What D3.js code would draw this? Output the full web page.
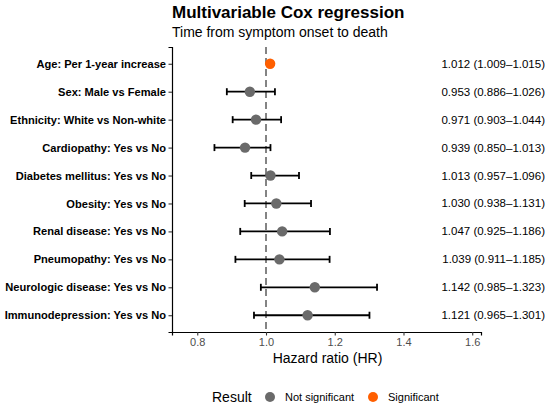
<!DOCTYPE html>
<html><head><meta charset="utf-8">
<script src="https://cdn.jsdelivr.net/npm/d3@7"></script>
<style>body{margin:0;background:#fff;} svg{display:block;font-family:"Liberation Sans",Arial,sans-serif;}</style>
</head><body>
<svg id="chart" width="550" height="406"></svg>
<script>
const labels = ["Age: Per 1-year increase","Sex: Male vs Female","Ethnicity: White vs Non-white","Cardiopathy: Yes vs No","Diabetes mellitus: Yes vs No","Obesity: Yes vs No","Renal disease: Yes vs No","Pneumopathy: Yes vs No","Neurologic disease: Yes vs No","Immunodepression: Yes vs No"];
const hr =    [1.012, 0.953, 0.971, 0.939, 1.013, 1.030, 1.047, 1.039, 1.142, 1.121];
const lower = [1.009, 0.886, 0.903, 0.850, 0.957, 0.938, 0.925, 0.911, 0.985, 0.965];
const upper = [1.015, 1.026, 1.044, 1.013, 1.096, 1.131, 1.186, 1.185, 1.323, 1.301];
const result = ["Significant","Not significant","Not significant","Not significant","Not significant","Not significant","Not significant","Not significant","Not significant","Not significant"];
const xTicks = [0.8, 1.0, 1.2, 1.4, 1.6];
const resultLevels = ["Not significant","Significant"];

(function(){
const data = labels.map((l,i)=>({label:l, hr:hr[i], lo:lower[i], hi:upper[i], res:result[i]}));
const fmt = d3.format(".3f");

const svg = d3.select("#chart");
const pL = 172, pR = 481, pT = 47, pB = 332;
const x = d3.scaleLinear().domain([0.7265, 1.6255]).range([pL, pR]);
const y = d3.scalePoint().domain(labels).range([pT, pB]).padding(0.6);
const color = d3.scaleOrdinal().domain(resultLevels).range(["#6a6a6a","#FF5F00"]);

svg.append("text").attr("x", pL).attr("y", 18).attr("font-size", 17).attr("font-weight","bold").attr("fill","#000").text("Multivariable Cox regression");
svg.append("text").attr("x", pL).attr("y", 37).attr("font-size", 14).attr("fill","#000").text("Time from symptom onset to death");

svg.append("line").attr("x1", x(1)).attr("x2", x(1)).attr("y1", pT).attr("y2", pB)
  .attr("stroke","#666").attr("stroke-width",1.6).attr("stroke-dasharray","7,4");

const g = svg.append("g");
data.forEach(d=>{
  const yy = y(d.label);
  if (d.res !== "Significant") {
    g.append("line").attr("x1",x(d.lo)).attr("x2",x(d.hi)).attr("y1",yy).attr("y2",yy).attr("stroke","#000").attr("stroke-width",1.8);
    [d.lo,d.hi].forEach(v=>g.append("line").attr("x1",x(v)).attr("x2",x(v)).attr("y1",yy-3.5).attr("y2",yy+3.5).attr("stroke","#000").attr("stroke-width",1.8));
  }
  g.append("circle").attr("cx",x(d.hr)).attr("cy",yy).attr("r",5.2).attr("fill",color(d.res));
  svg.append("text").attr("x",545).attr("y",yy).attr("dy","0.35em").attr("text-anchor","end").attr("font-size",11.5).attr("fill","#000")
    .text(`${fmt(d.hr)} (${fmt(d.lo)}\u2013${fmt(d.hi)})`);
});

const xAxis = svg.append("g").attr("transform",`translate(0,${pB})`)
  .call(d3.axisBottom(x).tickValues(xTicks).tickFormat(d3.format(".1f")).tickSizeOuter(0).tickSize(3.5));
xAxis.select(".domain").attr("stroke","#000").attr("stroke-width",1.2);
xAxis.selectAll(".tick line").attr("stroke","#333").attr("stroke-width",1.1);
xAxis.selectAll(".tick text").attr("font-size",11).attr("fill","#4d4d4d").attr("font-family","Liberation Sans, Arial, sans-serif");

const yAxis = svg.append("g").attr("transform",`translate(${pL},0)`)
  .call(d3.axisLeft(y).tickSizeOuter(0).tickSize(3.5));
yAxis.select(".domain").attr("stroke","#000").attr("stroke-width",1.2);
yAxis.selectAll(".tick line").attr("stroke","#333").attr("stroke-width",1.1);
yAxis.selectAll(".tick text").attr("font-size",11.1).attr("font-weight","bold").attr("fill","#000").attr("x",-6).attr("font-family","Liberation Sans, Arial, sans-serif");

svg.append("text").attr("x",(pL+pR)/2+1).attr("y",363).attr("text-anchor","middle").attr("font-size",14).attr("fill","#000").text("Hazard ratio (HR)");

const lg = svg.append("g");
lg.append("text").attr("x",212).attr("y",397).attr("dy","0.35em").attr("font-size",14).attr("fill","#000").text("Result");
const lx = [270, 373];
resultLevels.forEach((r,i)=>{
  lg.append("circle").attr("cx",lx[i]).attr("cy",397).attr("r",5).attr("fill",color(r));
  lg.append("text").attr("x",lx[i]+15).attr("y",397).attr("dy","0.35em").attr("font-size",11).attr("fill","#000").text(r);
});
})();
</script>
</body></html>
